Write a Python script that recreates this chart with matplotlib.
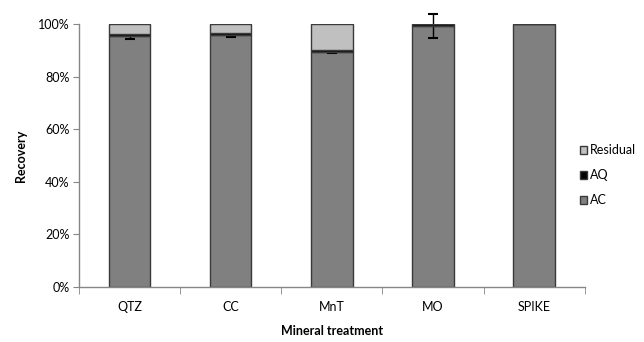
import numpy as np
import matplotlib
matplotlib.use("Agg")
import matplotlib.pyplot as plt
from matplotlib.ticker import PercentFormatter, FixedLocator

plt.rcParams['font.family'] = ['Lato', 'DejaVu Sans']

treatments = ["QTZ", "CC", "MnT", "MO", "SPIKE"]
ac = [95.3, 95.7, 89.4, 99.2, 100.0]
aq = [1.0, 0.8, 0.8, 0.8, 0.0]
residual = [3.7, 3.5, 9.8, 0.0, 0.0]
ac_err = [1.0, 0.5, 0.6, 4.7, 0.0]

fig = plt.figure(figsize=(6.44, 3.42), dpi=100)
ax = fig.add_axes([0.1227, 0.161, 0.7853, 0.769])

x = np.arange(len(treatments))
w = 0.41
edge = "#3a3a3a"
ac = np.array(ac) / 100
aq = np.array(aq) / 100
residual = np.array(residual) / 100
ac_err = np.array(ac_err) / 100

b_ac = ax.bar(x, ac, w, color="#808080", edgecolor=edge, linewidth=1.0, label="AC", zorder=2)
# error bars belong to the AC series, so the stacked segments above cover them
mask = ac_err > 0
ax.errorbar(x[mask], ac[mask], yerr=ac_err[mask], fmt="none", ecolor="black",
            elinewidth=1.0, capsize=3.5, capthick=1.5, zorder=2.5, clip_on=False)
b_aq = ax.bar(x, aq, w, bottom=ac, color="black", edgecolor=edge, linewidth=1.0, label="AQ", zorder=3)
b_res = ax.bar(x, residual, w, bottom=ac + aq, color="#c0c0c0", edgecolor=edge, linewidth=1.0,
               label="Residual", zorder=3)

ax.set_xlim(-0.5, len(treatments) - 0.5)
ax.set_ylim(0, 1.0)
ax.yaxis.set_major_locator(FixedLocator(np.arange(0, 1.01, 0.2)))
ax.yaxis.set_major_formatter(PercentFormatter(1.0, decimals=0))
ax.set_xticks(x)
ax.set_xticklabels(treatments)
ax.xaxis.set_minor_locator(FixedLocator(np.arange(-0.5, len(treatments), 1.0)))
ax.tick_params(axis="x", which="major", length=0, pad=10, labelsize=9)
ax.tick_params(axis="x", which="minor", length=5, color="#868686", direction="out")
ax.tick_params(axis="y", length=4, color="#868686", direction="out", labelsize=9, pad=3)

for s in ["top", "right"]:
    ax.spines[s].set_visible(False)
for s in ["left", "bottom"]:
    ax.spines[s].set_color("#868686")
    ax.spines[s].set_linewidth(1.0)

ax.set_xlabel("Mineral treatment", fontsize=9, fontweight="bold", labelpad=9)
ax.set_ylabel("Recovery", fontsize=9, fontweight="bold", labelpad=8)

leg = ax.legend(handles=[b_res, b_aq, b_ac], loc="center left", bbox_to_anchor=(0.99, 0.425),
                frameon=False, fontsize=9, handlelength=0.6, handleheight=0.6,
                handletextpad=0.25, labelspacing=1.05, borderaxespad=0.0, borderpad=0.0)

fig.savefig("out.png", dpi=100)
